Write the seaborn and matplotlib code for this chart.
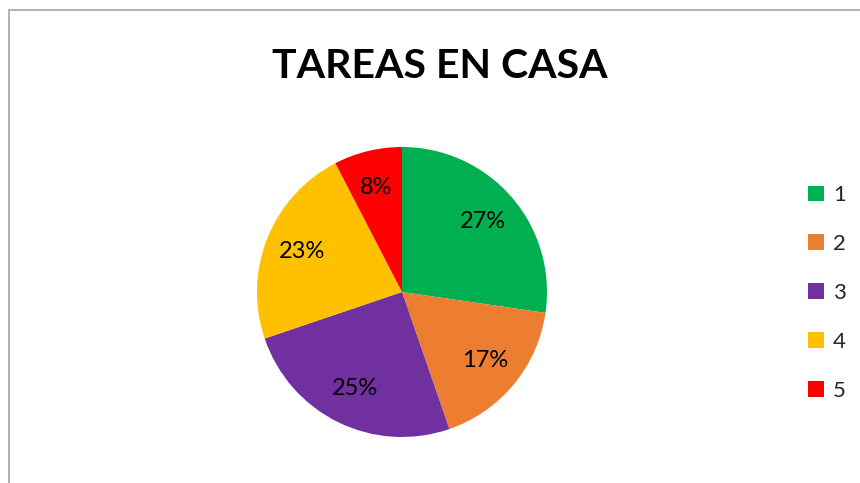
import matplotlib.pyplot as plt
import seaborn as sns
from matplotlib.patches import Rectangle

# Datos del gráfico (porcentajes)
categorias = ['1', '2', '3', '4', '5']
valores = [27.3, 17.4, 25.1, 22.6, 7.6]
colores = ['#00B050', '#ED7D31', '#7030A0', '#FFC000', '#FF0000']

sns.set_theme(style='white')
plt.rcParams['font.family'] = ['Lato', 'DejaVu Sans']

W, H = 860, 483
fig = plt.figure(figsize=(W / 100, H / 100), dpi=100)
fig.patch.set_facecolor('white')

# Borde del área del gráfico (solo visible arriba e izquierda)
fig.patches.append(Rectangle((8.5 / W, -0.2), 1.5, 1.2 - 9.5 / H,
                             transform=fig.transFigure, fill=False,
                             edgecolor='#a6a6a6', linewidth=1.2))

# Tarta
cx, cy, r = 402, 483 - 292, 145
ax = fig.add_axes([(cx - r) / W, (cy - r) / H, 2 * r / W, 2 * r / H])
wedges, _, autotexts = ax.pie(valores, colors=colores, startangle=90,
                              counterclock=False, autopct='%1.0f%%',
                              pctdistance=0.74,
                              wedgeprops={'linewidth': 0},
                              textprops={'fontsize': 17, 'color': 'black'})
ax.set_xlim(-1, 1)
ax.set_ylim(-1, 1)
ax.set_aspect('equal')
ax.axis('off')

fig.text(440 / W, 1 - 78 / H, 'TAREAS EN CASA', ha='center', va='baseline',
         fontsize=29.5, fontweight='bold', color='black')

fig.legend(wedges, categorias, loc='center left',
           bbox_to_anchor=(797 / W, 1 - 293 / H), frameon=False,
           fontsize=16, handlelength=0.72, handleheight=0.72,
           handletextpad=0.4, labelspacing=1.3, borderpad=0)

fig.savefig('out.png', dpi=100)
